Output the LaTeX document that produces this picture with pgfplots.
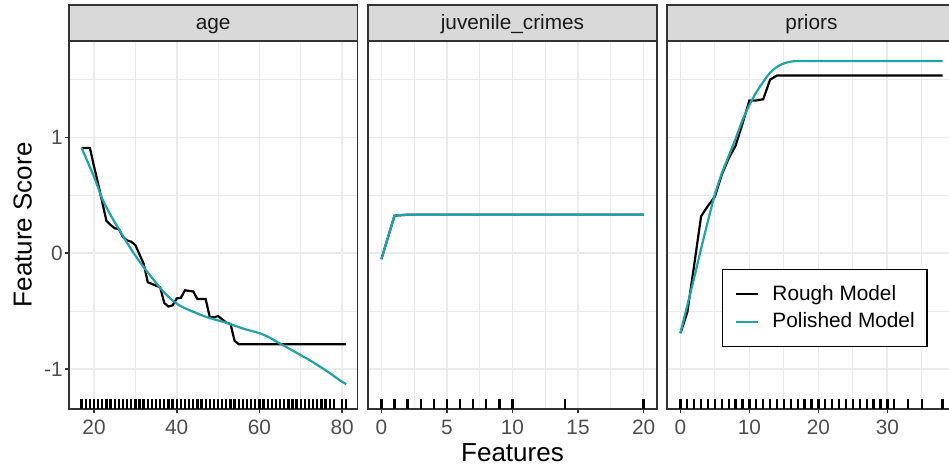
\documentclass[border=0pt]{standalone}
\usepackage{fontspec}
\setmainfont{Liberation Sans}
\usepackage{pgfplots}
\pgfplotsset{compat=1.18}
\definecolor{grey10}{HTML}{1A1A1A}
\definecolor{grey20}{HTML}{333333}
\definecolor{grey30}{HTML}{4D4D4D}
\definecolor{grey85}{HTML}{D9D9D9}
\definecolor{grey92}{HTML}{EBEBEB}
\definecolor{tealc}{RGB}{32,163,168}
\newcommand{\tsz}{\fontsize{10.4}{12}\selectfont}
\pgfplotsset{
  panel/.style={
    scale only axis, width=144.2pt, height=184.15pt,
    ymin=-1.345, ymax=1.836,
    clip=false,
    axis line style={grey20, line width=0.85pt},
    tick style={grey20, line width=0.85pt},
    major tick length=2pt, minor tick length=0pt,
    tick align=outside,
    xtick pos=bottom, ytick pos=left,
    ytick={-1,0,1}, minor ytick={-0.5,0.5,1.5},
    grid=both,
    major grid style={grey92, line width=0.9pt},
    minor grid style={grey92, line width=0.45pt},
    /pgf/number format/assume math mode=true,
    ticklabel style={font=\tsz, text=grey30},
    yticklabel style={inner xsep=1pt},
    anchor=south west,
  },
  rough/.style={black, line width=1.1pt},
  polished/.style={tealc, line width=1.1pt},
  rug/.style={only marks, mark=|, mark size=2.5pt, mark options={black, line width=1.15pt}},
  noy/.style={yticklabels={}, ytick style={draw=none}},
}
\newcommand{\strip}[1]{%
  \draw[fill=grey85, draw=grey20, line width=0.85pt] (rel axis cs:0,1) rectangle ([yshift=17.85pt]rel axis cs:1,1);
  \node[anchor=base, font=\tsz, text=grey10, inner sep=0pt] at ([yshift=5.35pt]rel axis cs:0.5,1) {#1};
}
\begin{document}
\begin{tikzpicture}
\useasboundingbox (0,0) rectangle (474.5pt,235pt);
\clip (0,0) rectangle (474.5pt,235pt);

% ---- age ----
\begin{axis}[panel, at={(34.5pt,30.5pt)},
  xmin=13.95, xmax=83.7,
  xtick={20,40,60,80}, minor xtick={30,50,70}]
\addplot[rough] coordinates {
(17,0.91)(18,0.91)(19,0.91)(20,0.75)(21,0.60)(22,0.44)(23,0.28)(24,0.245)(25,0.216)
(26,0.21)(27,0.14)(28,0.11)(29,0.10)(30,0.07)(31,-0.01)(32,-0.09)(33,-0.25)
(34,-0.265)(35,-0.28)(36,-0.295)(37,-0.43)(38,-0.46)(39,-0.45)(40,-0.39)
(41,-0.385)(42,-0.32)(43,-0.325)(44,-0.33)(45,-0.395)(46,-0.395)(47,-0.395)
(48,-0.553)(49,-0.553)(50,-0.542)(51,-0.571)(52,-0.60)(53,-0.611)(54,-0.756)
(55,-0.785)(60,-0.785)(70,-0.785)(81,-0.785)};
\addplot[polished, smooth] coordinates {
(17,0.91)(20,0.66)(22,0.47)(24,0.33)(26,0.21)(28,0.09)(30,-0.02)(32,-0.12)
(34,-0.21)(36,-0.30)(38,-0.375)(40,-0.435)(42,-0.475)(44,-0.505)(46,-0.535)
(48,-0.56)(50,-0.58)(52,-0.60)(54,-0.625)(56,-0.65)(58,-0.67)(60,-0.69)
(62,-0.72)(64,-0.76)(66,-0.80)(68,-0.84)(70,-0.88)(72,-0.92)(74,-0.965)
(76,-1.01)(78,-1.06)(80,-1.11)(81,-1.13)};
\addplot[rug] coordinates {
(17,-1.302)(18,-1.302)(19,-1.302)(20,-1.302)(21,-1.302)(22,-1.302)(23,-1.302)(24,-1.302)
(25,-1.302)(26,-1.302)(27,-1.302)(28,-1.302)(29,-1.302)(30,-1.302)(31,-1.302)(32,-1.302)
(33,-1.302)(34,-1.302)(35,-1.302)(36,-1.302)(37,-1.302)(38,-1.302)(39,-1.302)(40,-1.302)
(41,-1.302)(42,-1.302)(43,-1.302)(44,-1.302)(45,-1.302)(46,-1.302)(47,-1.302)(48,-1.302)
(49,-1.302)(50,-1.302)(51,-1.302)(52,-1.302)(53,-1.302)(54,-1.302)(55,-1.302)(56,-1.302)
(57,-1.302)(58,-1.302)(59,-1.302)(60,-1.302)(61,-1.302)(62,-1.302)(63,-1.302)(64,-1.302)
(65,-1.302)(66,-1.302)(67,-1.302)(68,-1.302)(69,-1.302)(70,-1.302)(71,-1.302)(72,-1.302)
(73,-1.302)(74,-1.302)(75,-1.302)(76,-1.302)(77,-1.302)(78,-1.302)(80,-1.302)(81,-1.302)};
\strip{age}
\node[rotate=90, anchor=base, font=\fontsize{13}{15}\selectfont, inner sep=0pt] at ([xshift=-18.65pt]rel axis cs:0,0.5) {Feature Score};
\end{axis}

% ---- juvenile_crimes ----
\begin{axis}[panel, noy, at={(184.15pt,30.5pt)},
  xmin=-1, xmax=21,
  xtick={0,5,10,15,20}, minor xtick={2.5,7.5,12.5,17.5}]
\addplot[rough] coordinates {(0,-0.05)(1,0.325)(2,0.333)(20,0.333)};
\addplot[polished] coordinates {(0,-0.05)(1,0.325)(2,0.333)(20,0.333)};
\addplot[rug] coordinates {
(0,-1.302)(1,-1.302)(2,-1.302)(3,-1.302)(4,-1.302)(5,-1.302)(6,-1.302)(7,-1.302)
(8,-1.302)(9,-1.302)(10,-1.302)(14,-1.302)(20,-1.302)};
\strip{juvenile\_crimes}
\node[anchor=base, font=\fontsize{13}{15}\selectfont, inner sep=0pt] at ([yshift=-26.35pt]rel axis cs:0.5,0) {Features};
\end{axis}

% ---- priors ----
\begin{axis}[panel, noy, at={(333.65pt,30.5pt)},
  xmin=-1.9, xmax=39.9,
  xtick={0,10,20,30}, minor xtick={5,15,25,35},
  legend style={at={(0.1886,0.1675)}, anchor=south west, draw=black, line width=0.6pt,
    fill=white, font=\tsz, inner xsep=6.15pt, inner ysep=8pt,
    nodes={inner sep=0pt}, column sep=6.5pt, row sep=4.6pt},
  legend cell align=left,
  legend image code/.code={\draw[#1] (0pt,0pt) -- (11.35pt,0pt);}]
\addplot[rough] coordinates {
(0,-0.69)(1,-0.51)(2,-0.10)(3,0.32)(4,0.41)(5,0.49)(6,0.68)(7,0.82)(8,0.93)
(9,1.12)(10,1.32)(11,1.32)(12,1.33)(13,1.50)(14,1.535)(20,1.535)(30,1.535)(38,1.535)};
\addlegendentry{Rough Model}
\addplot[polished, smooth] coordinates {
(0,-0.69)(1,-0.45)(2,-0.21)(3,0.04)(4,0.28)(5,0.51)(6,0.69)(7,0.84)(8,0.99)
(9,1.15)(10,1.28)(11,1.39)(12,1.48)(13,1.56)(14,1.61)(15,1.64)(16,1.655)(17,1.66)
(20,1.66)(30,1.66)(38,1.66)};
\addlegendentry{Polished Model}
\addplot[rug, forget plot] coordinates {
(0,-1.302)(1,-1.302)(2,-1.302)(3,-1.302)(4,-1.302)(5,-1.302)(6,-1.302)(7,-1.302)
(8,-1.302)(9,-1.302)(10,-1.302)(11,-1.302)(12,-1.302)(13,-1.302)(14,-1.302)(15,-1.302)
(16,-1.302)(17,-1.302)(18,-1.302)(19,-1.302)(20,-1.302)(21,-1.302)(22,-1.302)(23,-1.302)
(24,-1.302)(25,-1.302)(26,-1.302)(27,-1.302)(28,-1.302)(29,-1.302)(30,-1.302)(31,-1.302)
(33,-1.302)(35,-1.302)(38,-1.302)};
\strip{priors}
\end{axis}
\end{tikzpicture}
\end{document}
